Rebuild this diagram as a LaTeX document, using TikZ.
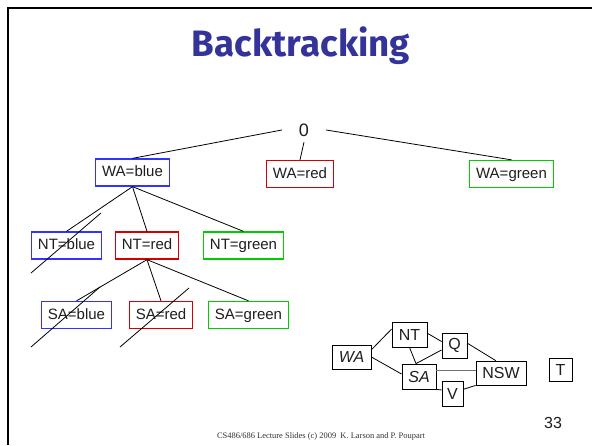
\documentclass[tikz,border=0pt]{standalone}
\usepackage{fontspec}
\setmainfont{Liberation Sans}
\newfontfamily\titlefont{Fira Sans}
\newfontfamily\footfont{Liberation Serif}
\usetikzlibrary{calc}
\definecolor{ttl}{RGB}{51,51,153}
\definecolor{bx}{RGB}{51,51,255}
\definecolor{rx}{RGB}{210,0,0}
\definecolor{gx}{RGB}{0,204,0}
\definecolor{txt}{RGB}{30,30,30}
\begin{document}
\begin{tikzpicture}[x=1pt,y=-1pt,
  tbox/.style={draw, line width=1.3pt, font=\fontsize{15}{15}\selectfont,
    text height=11pt, text depth=3pt, inner xsep=6.5pt, inner ysep=6.5pt, text=txt},
  bluebox/.style={tbox, draw=bx},
  redbox/.style={tbox, draw=rx},
  greenbox/.style={tbox, draw=gx},
  edge/.style={line width=0.8pt, black},
  slash/.style={line width=0.8pt, black},
  gbox/.style={draw, line width=0.8pt, inner sep=0pt, font=\fontsize{16}{16}\selectfont, text=txt},
  gedge/.style={line width=0.8pt, black}
]
\useasboundingbox (0,0) rectangle (592,445);
\fill[white] (0,0) rectangle (592,445);
% frame
\draw[line width=2.7pt, line join=miter] (8,445) -- (8,8) -- (592,8);

% title
\node[text=ttl, inner sep=0pt] (title) at (301,46) {\resizebox{218pt}{!}{\titlefont\bfseries Backtracking}};

% tree
\node[minimum width=44pt, minimum height=24pt, inner sep=0pt, font=\fontsize{18}{18}\selectfont, text=txt] (root) at (304,130) {0};

\node[bluebox]  (WAb) at (132.5,172.5) {WA=blue};
\node[redbox]   (WAr) at (300,174) {WA=red};
\node[greenbox] (WAg) at (511.5,174) {WA=green};

\node[bluebox]  (NTb) at (66.5,245.5) {NT=blue};
\node[redbox]   (NTr) at (147,245.5) {NT=red};
\node[greenbox] (NTg) at (243.5,245.5) {NT=green};

\node[bluebox]  (SAb) at (76.5,315) {SA=blue};
\node[redbox]   (SAr) at (161,315) {SA=red};
\node[greenbox] (SAg) at (248.5,315) {SA=green};

\draw[edge] (root.west) -- (WAb.north);
\draw[edge] (root.south) -- (WAr.north);
\draw[edge] (root.east) -- (WAg.north);

\draw[edge] (WAb.south) -- (NTb.north);
\draw[edge] (WAb.south) -- (NTr.north);
\draw[edge] (WAb.south) -- (NTg.north);

\draw[edge] (NTr.south) -- (SAb.north);
\draw[edge] (NTr.south) -- (SAr.north);
\draw[edge] (NTr.south) -- (SAg.north);

% pruning slashes
\draw[slash] ($(NTb)+(-35.5,27.5)$) -- ($(NTb)+(34.5,-32.5)$);
\draw[slash] ($(SAb)+(-45.5,32)$) -- ($(SAb)+(23.5,-28)$);
\draw[slash] ($(SAr)+(-41,32)$) -- ($(SAr)+(28,-27)$);

% constraint graph
\node[gbox, minimum width=39pt, minimum height=24pt] (gWA) at (351.5,357) {\itshape WA};
\node[gbox, minimum width=35pt, minimum height=25pt] (gNT) at (409.5,334.5) {NT};
\node[gbox, minimum width=25pt, minimum height=25pt] (gQ) at (454.5,345.5) {Q};
\node[gbox, minimum width=34pt, minimum height=25pt] (gSA) at (419,376.5) {\itshape SA};
\node[gbox, minimum width=50pt, minimum height=24pt] (gNSW) at (501,373) {NSW};
\node[gbox, minimum width=21pt, minimum height=25pt] (gV) at (452.5,393.5) {V};
\node[gbox, minimum width=23pt, minimum height=23pt] (gT) at (560.5,369.5) {T};

\draw[gedge] (gWA.20) -- (gNT.163);
\draw[gedge] (gWA.east) -- (gSA.172);
\draw[gedge] (gNT.4) -- (gQ.163);
\draw[gedge] (gNT.south) -- (gSA.103);
\draw[gedge] (gQ.199) -- (gSA.103);
\draw[gedge] (gQ.10) -- (gNSW.113);
\draw[gedge, black!55] (gSA.19) -- (gSA.19 -| gNSW.west);
\draw[gedge] (gSA.south east) -- (gV.162);
\draw[gedge] (gV.21) -- (gNSW.south west);

% footer
\node[inner sep=0pt, text=txt] (pnum) at (553,423) {\fontsize{16}{16}\selectfont 33};
\node[inner sep=0pt, text=black!80] (foot) at (321,436) {\resizebox{208pt}{!}{\footfont CS486/686 Lecture Slides (c) 2009\ \ K. Larson and P. Poupart}};
\end{tikzpicture}
\end{document}
